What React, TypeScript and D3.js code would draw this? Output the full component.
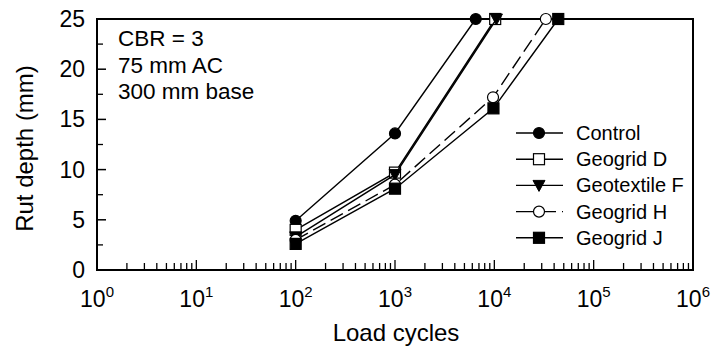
import React from 'react';
import * as d3 from 'd3';

// data
const seriesNames = ['Control', 'Geogrid D', 'Geotextile F', 'Geogrid H', 'Geogrid J'];
const cyclesControl = [100, 1000, 6500];
const rutControl = [4.9, 13.6, 25];
const cyclesD = [100, 1000, 10200];
const rutD = [4.0, 9.7, 25];
const cyclesF = [100, 1000, 10500];
const rutF = [3.3, 9.5, 25];
const cyclesH = [100, 1000, 9700, 33000];
const rutH = [3.0, 8.5, 17.2, 25];
const cyclesJ = [100, 1000, 9800, 44000];
const rutJ = [2.6, 8.1, 16.1, 25];
const yTicks = [0, 5, 10, 15, 20, 25];
const yMinorTicks = [2.5, 7.5, 12.5, 17.5, 22.5];
const xExponents = [0, 1, 2, 3, 4, 5, 6];
const notes = ['CBR = 3', '75 mm AC', '300 mm base'];

type Marker = 'circle' | 'square' | 'triangle';
const styles: { marker: Marker; fill: string; dash?: string }[] = [
  { marker: 'circle', fill: '#000' },
  { marker: 'square', fill: '#fff' },
  { marker: 'triangle', fill: '#000' },
  { marker: 'circle', fill: '#fff', dash: '14,6' },
  { marker: 'square', fill: '#000' },
];

const font = 'Liberation Sans, Arial, sans-serif';

function MarkerShape({ kind, fill, x, y }: { kind: Marker; fill: string; x: number; y: number }) {
  if (kind === 'circle') return <circle cx={x} cy={y} r={5.5} fill={fill} stroke="#000" strokeWidth={1.2} />;
  if (kind === 'square')
    return <rect x={x - 5.5} y={y - 5.5} width={11} height={11} fill={fill} stroke="#000" strokeWidth={1.2} />;
  return <path d={`M${x - 6},${y - 5}L${x + 6},${y - 5}L${x},${y + 6}Z`} fill={fill} stroke="#000" strokeWidth={1} />;
}

export default function App() {
  const W = 714, H = 351;
  const left = 97, right = 693, top = 19, bottom = 270;

  const x = d3.scaleLog().domain([1, 1e6]).range([left, right]);
  const y = d3.scaleLinear().domain([0, 25]).range([bottom, top]);

  const series = [
    { c: cyclesControl, r: rutControl },
    { c: cyclesD, r: rutD },
    { c: cyclesF, r: rutF },
    { c: cyclesH, r: rutH },
    { c: cyclesJ, r: rutJ },
  ];

  const line = d3.line<[number, number]>().x(d => x(d[0])).y(d => y(d[1]));
  const xTicks = x.ticks();

  const legendX0 = 516, legendX1 = 563, legendY0 = 133, legendStep = 26.2;

  return (
    <svg width={W} height={H} style={{ position: 'absolute', left: 0, top: 0, background: '#fff' }} fontFamily={font}>
      {/* x ticks (inward) */}
      {xTicks.map((t, i) => {
        const major = Math.abs(Math.log10(t) - Math.round(Math.log10(t))) < 1e-9;
        return (
          <line key={'xt' + i} x1={x(t)} x2={x(t)} y1={bottom} y2={bottom - (major ? 10 : 7)} stroke="#000" strokeWidth={1.3} />
        );
      })}
      {/* y ticks (inward) */}
      {yTicks.map(t => (
        <line key={'yt' + t} x1={left} x2={left + 9} y1={y(t)} y2={y(t)} stroke="#000" strokeWidth={1.5} />
      ))}
      {yMinorTicks.map(t => (
        <line key={'ym' + t} x1={left} x2={left + 6} y1={y(t)} y2={y(t)} stroke="#000" strokeWidth={1.3} />
      ))}
      {/* frame */}
      <rect x={left} y={top} width={right - left} height={bottom - top} fill="none" stroke="#000" strokeWidth={2} />

      {/* y labels */}
      {yTicks.map(t => (
        <text key={'yl' + t} x={85} y={y(t)} dy="0.35em" textAnchor="end" fontSize={23} fill="#000">
          {t}
        </text>
      ))}
      {/* x labels */}
      {xExponents.map(e => (
        <text key={'xl' + e} x={x(Math.pow(10, e))} y={307} textAnchor="middle" fontSize={23} fill="#000">
          10<tspan fontSize={15} dy={-10}>{e}</tspan>
        </text>
      ))}

      {/* axis titles */}
      <text x={396} y={341} textAnchor="middle" fontSize={24} fill="#000">Load cycles</text>
      <text transform={`translate(33,${(top + bottom) / 2 + 4}) rotate(-90)`} textAnchor="middle" fontSize={24} fill="#000">
        Rut depth (mm)
      </text>

      {/* notes */}
      {notes.map((n, i) => (
        <text key={n} x={118} y={46 + i * 26.5} fontSize={22.5} fill="#000">{n}</text>
      ))}

      {/* series */}
      {series.map((s, i) => {
        const pts = s.c.map((c, j) => [c, s.r[j]] as [number, number]);
        return (
          <g key={seriesNames[i]}>
            <path d={line(pts) || ''} fill="none" stroke="#000" strokeWidth={1.4} strokeDasharray={styles[i].dash} />
            {pts.map((p, j) => (
              <MarkerShape key={j} kind={styles[i].marker} fill={styles[i].fill} x={x(p[0])} y={y(p[1])} />
            ))}
          </g>
        );
      })}

      {/* legend */}
      {seriesNames.map((name, i) => {
        const ly = legendY0 + i * legendStep;
        return (
          <g key={'lg' + name}>
            <line x1={legendX0} x2={legendX1} y1={ly} y2={ly} stroke="#000" strokeWidth={1.4} strokeDasharray={styles[i].dash ? '17,6' : undefined} />
            <MarkerShape kind={styles[i].marker} fill={styles[i].fill} x={(legendX0 + legendX1) / 2 - 0.5} y={ly} />
            <text x={576} y={ly} dy="0.35em" fontSize={20} fill="#000">{name}</text>
          </g>
        );
      })}
    </svg>
  );
}
